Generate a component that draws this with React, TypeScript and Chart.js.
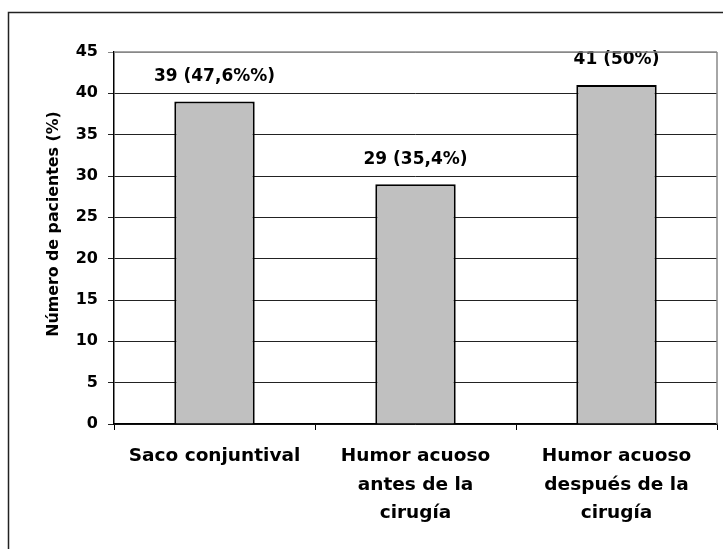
import React, { useEffect, useRef } from 'react';
import { Chart, registerables } from 'chart.js';

Chart.register(...registerables);

const categories: string[][] = [
  ['Saco conjuntival'],
  ['Humor acuoso', 'antes de la', 'cirugía'],
  ['Humor acuoso', 'después de la', 'cirugía'],
];
const values: number[] = [39, 29, 41];
const valueLabels: string[] = ['39 (47,6%%)', '29 (35,4%)', '41 (50%)'];
const yMin = 0;
const yMax = 45;
const yStep = 5;
const yTitle = 'Número de pacientes (%)';

const FONT = "'DejaVu Sans', sans-serif";

const framePlugin = {
  id: 'frame',
  beforeDraw(chart: any) {
    const ctx = chart.ctx;
    ctx.save();
    ctx.fillStyle = '#fff';
    ctx.fillRect(0, 0, chart.width, chart.height);
    ctx.strokeStyle = '#222';
    ctx.lineWidth = 1.5;
    ctx.beginPath();
    ctx.moveTo(8.5, chart.height + 5);
    ctx.lineTo(8.5, 12.5);
    ctx.lineTo(chart.width + 5, 12.5);
    ctx.stroke();
    ctx.restore();
  },
  afterDraw(chart: any) {
    const ctx = chart.ctx;
    const a = chart.chartArea;
    ctx.save();
    ctx.strokeStyle = '#888';
    ctx.lineWidth = 1.5;
    ctx.beginPath();
    ctx.moveTo(a.right, a.top);
    ctx.lineTo(a.right, a.bottom);
    ctx.stroke();
    ctx.beginPath();
    ctx.moveTo(a.left, a.top);
    ctx.lineTo(a.right, a.top);
    ctx.stroke();
    ctx.fillStyle = '#000';
    ctx.font = `bold 15.8px ${FONT}`;
    ctx.textAlign = 'center';
    ctx.textBaseline = 'alphabetic';
    ctx.translate(58, 224);
    ctx.rotate(-Math.PI / 2);
    ctx.fillText(yTitle, 0, 0);
    ctx.restore();
  },
  afterDatasetsDraw(chart: any) {
    const ctx = chart.ctx;
    const meta = chart.getDatasetMeta(0);
    ctx.save();
    ctx.fillStyle = '#000';
    ctx.font = `bold 17px ${FONT}`;
    ctx.textAlign = 'center';
    ctx.textBaseline = 'middle';
    meta.data.forEach((el: any, i: number) => {
      ctx.fillText(valueLabels[i], el.x, el.y - 25);
    });
    ctx.restore();
  },
};

export default function App() {
  const ref = useRef<HTMLCanvasElement | null>(null);
  useEffect(() => {
    if (!ref.current) return;
    const chart = new Chart(ref.current, {
      type: 'bar',
      data: {
        labels: categories,
        datasets: [
          {
            data: values,
            backgroundColor: '#c0c0c0',
            borderColor: '#000',
            borderWidth: 2,
            barPercentage: 0.4,
            categoryPercentage: 1,
          },
        ],
      },
      options: {
        responsive: false,
        animation: false,
        layout: { padding: { top: 52, right: 6, left: 0, bottom: 0 } },
        plugins: {
          legend: { display: false },
          tooltip: { enabled: false },
          title: { display: false },
        },
        scales: {
          x: {
            type: 'category',
            offset: true,
            afterFit: (s: any) => {
              s.height = 125;
            },
            grid: {
              offset: true,
              drawOnChartArea: false,
              drawTicks: true,
              tickLength: 6,
              color: '#000',
            },
            border: { display: true, color: '#000', width: 1.5 },
            ticks: {
              color: '#000',
              maxRotation: 0,
              autoSkip: false,
              padding: 12,
              font: { family: FONT, size: 18.5, weight: 'bold', lineHeight: 1.54 },
            },
          },
          y: {
            min: yMin,
            max: yMax,
            afterFit: (s: any) => {
              s.width = 114;
            },
            grid: {
              color: (c: any) => (c.tick && c.tick.value === yMax ? '#888' : '#222'),
              lineWidth: 1,
              drawTicks: true,
              tickLength: 6,
            },
            border: { display: true, color: '#000', width: 1.5 },
            ticks: {
              stepSize: yStep,
              color: '#000',
              padding: 10,
              font: { family: FONT, size: 16, weight: 'bold' },
            },
          },
        },
      },
      plugins: [framePlugin],
    });
    return () => chart.destroy();
  }, []);
  return (
    <div style={{ position: 'absolute', left: 0, top: 0, width: 723, height: 549 }}>
      <canvas ref={ref} width={723} height={549} style={{ display: 'block' }} />
    </div>
  );
}
